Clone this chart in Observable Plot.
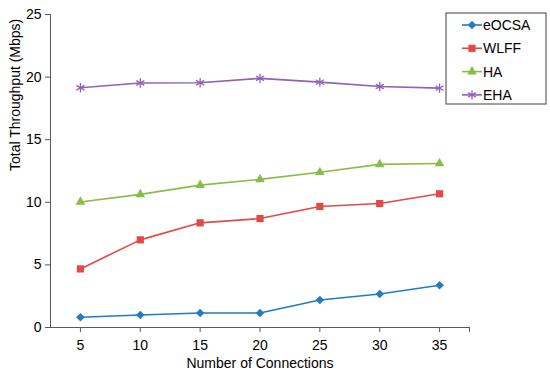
<!DOCTYPE html>
<html><head><meta charset="utf-8">
<script src="https://cdn.jsdelivr.net/npm/d3@7"></script>
<script src="https://cdn.jsdelivr.net/npm/@observablehq/plot@0.6"></script>
<style>
body{margin:0;background:#fff;}
#wrap{position:relative;width:550px;height:377px;font-family:"Liberation Sans",Arial,sans-serif;}
</style></head>
<body><div id="wrap"></div>
<script>
const connections = [5, 10, 15, 20, 25, 30, 35];
const eOCSA = [0.82, 1.0, 1.16, 1.16, 2.2, 2.68, 3.37];
const WLFF = [4.68, 7.0, 8.36, 8.7, 9.67, 9.9, 10.68];
const HA = [10.03, 10.63, 11.37, 11.83, 12.4, 13.03, 13.1];
const EHA = [19.15, 19.53, 19.55, 19.9, 19.6, 19.25, 19.12];
const yTicks = [0, 5, 10, 15, 20, 25];

const seriesDefs = [
  {name: "eOCSA", values: eOCSA, color: "#1f7cc4", symbol: "diamond2", size: 3.8},
  {name: "WLFF", values: WLFF, color: "#e04a48", symbol: "square2", size: 4.6},
  {name: "HA", values: HA, color: "#89bd47", symbol: "triangle2", size: 4.6},
  {name: "EHA", values: EHA, color: "#9061b6", symbol: "asterisk", size: 4.4}
];
const rows = seriesDefs.flatMap(s => connections.map((c, i) => ({series: s.name, x: c, y: s.values[i]})));

const marks = [
  Plot.ruleX([2.5], {stroke: "#595959", strokeWidth: 1}),
  Plot.ruleY([0], {stroke: "#595959", strokeWidth: 1}),
  Plot.axisY({ticks: yTicks, tickSize: 5, tickPadding: 4, fontSize: 14, color: "#000", stroke: "#595959", label: null}),
  Plot.axisX({ticks: [5,10,15,20,25,30,35,37.5], tickFormat: d => d === 37.5 ? "" : d, tickSize: 5, tickPadding: 8, fontSize: 14, stroke: "#595959", label: null}),
  Plot.text(["Total Throughput (Mbps)"], {frameAnchor: "left", dx: -35, rotate: -90, fontSize: 14}),
  Plot.text(["Number of Connections"], {frameAnchor: "bottom", dx: 0, dy: 40, fontSize: 14})
];
for (const s of seriesDefs) {
  const d = rows.filter(r => r.series === s.name);
  marks.push(Plot.line(d, {x: "x", y: "y", stroke: s.color, strokeWidth: 1.6}));
  if (s.symbol === "asterisk") {
    marks.push(Plot.dot(d, {x: "x", y: "y", symbol: s.symbol, r: s.size, stroke: s.color, strokeWidth: 1.3, fill: "none"}));
  } else {
    marks.push(Plot.dot(d, {x: "x", y: "y", symbol: s.symbol, r: s.size, fill: s.color, stroke: "none"}));
  }
}

const chart = Plot.plot({
  width: 550, height: 377,
  marginLeft: 50, marginRight: 81, marginTop: 14, marginBottom: 50,
  style: {fontFamily: "Liberation Sans, Arial, sans-serif", fontSize: "14px", background: "#fff", color: "#000"},
  x: {domain: [2.5, 37.5]},
  y: {domain: [0, 25]},
  marks
});
document.getElementById("wrap").appendChild(chart);

// legend
const svg = d3.select(chart);
const lg = svg.append("g").attr("transform", "translate(446,13)");
lg.append("rect").attr("width", 100).attr("height", 91).attr("fill", "#fff").attr("stroke", "#404040").attr("stroke-width", 1);
seriesDefs.forEach((s, i) => {
  const y = 12 + i * 23.3;
  const g = lg.append("g").attr("transform", `translate(0,${y})`);
  g.append("line").attr("x1", 16).attr("x2", 36).attr("y1", 0).attr("y2", 0).attr("stroke", s.color).attr("stroke-width", 1.6);
  const sym = {diamond2: d3.symbolDiamond2, square2: d3.symbolSquare2, triangle2: d3.symbolTriangle2, asterisk: d3.symbolAsterisk}[s.symbol];
  const p = d3.symbol(sym, Math.PI * s.size * s.size)();
  const path = g.append("path").attr("d", p).attr("transform", "translate(26,0)");
  if (s.symbol === "asterisk") path.attr("fill", "none").attr("stroke", s.color).attr("stroke-width", 1.3);
  else path.attr("fill", s.color);
  g.append("text").attr("x", 37).attr("y", 0).attr("dy", "0.35em").attr("text-anchor", "start").attr("font-size", 14).attr("fill", "#000").text(s.name);
});
</script></body></html>
